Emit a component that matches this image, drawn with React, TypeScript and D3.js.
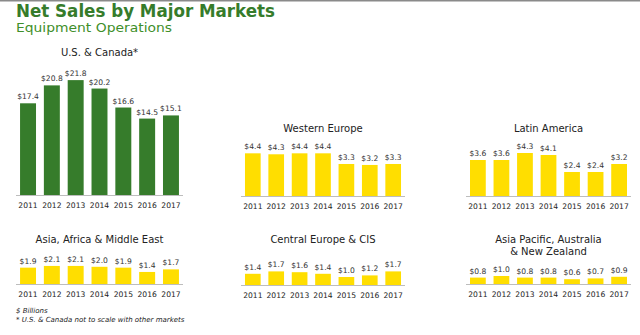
import React from "react";
import * as d3 from "d3";

const years = ["2011", "2012", "2013", "2014", "2015", "2016", "2017"];
const usCanada = [17.4, 20.8, 21.8, 20.2, 16.6, 14.5, 15.1];
const westernEurope = [4.4, 4.3, 4.4, 4.4, 3.3, 3.2, 3.3];
const latinAmerica = [3.6, 3.6, 4.3, 4.1, 2.4, 2.4, 3.2];
const asiaAfricaMiddleEast = [1.9, 2.1, 2.1, 2.0, 1.9, 1.4, 1.7];
const centralEuropeCIS = [1.4, 1.7, 1.6, 1.4, 1.0, 1.2, 1.7];
const asiaPacific = [0.8, 1.0, 0.8, 0.8, 0.6, 0.7, 0.9];

const GREEN = "#367c2b";
const YELLOW = "#ffde00";
const FONT = "'DejaVu Sans', Verdana, sans-serif";

type Panel = {
  title: string[];
  values: number[];
  color: string;
  x0: number;
  x1: number;
  base: number;
  ppu: number;
  titleY: number;
};

const panels: Panel[] = [
  { title: ["U.S. & Canada*"], values: usCanada, color: GREEN, x0: 16, x1: 183, base: 195, ppu: 5.27, titleY: 56 },
  { title: ["Western Europe"], values: westernEurope, color: YELLOW, x0: 241, x1: 405, base: 196, ppu: 9.7, titleY: 132 },
  { title: ["Latin America"], values: latinAmerica, color: YELLOW, x0: 466, x1: 631, base: 196, ppu: 10, titleY: 132 },
  { title: ["Asia, Africa & Middle East"], values: asiaAfricaMiddleEast, color: YELLOW, x0: 16, x1: 183, base: 284, ppu: 8.6, titleY: 243 },
  { title: ["Central Europe & CIS"], values: centralEuropeCIS, color: YELLOW, x0: 241, x1: 405, base: 285, ppu: 8, titleY: 243 },
  { title: ["Asia Pacific, Australia", "& New Zealand"], values: asiaPacific, color: YELLOW, x0: 466, x1: 631, base: 284, ppu: 8, titleY: 243 },
];

function BarPanel({ p }: { p: Panel }) {
  const x = d3.scaleBand<string>().domain(years).range([p.x0, p.x1]).paddingInner(0.33).paddingOuter(0.17);
  const maxV = d3.max(p.values) as number;
  const y = d3.scaleLinear().domain([0, maxV]).range([p.base, p.base - maxV * p.ppu]);
  const cx = (p.x0 + p.x1) / 2;
  return (
    <g>
      {p.title.map((t, i) => (
        <text key={t} x={cx} y={p.titleY + i * 11.5} textAnchor="middle" fontSize={10} fill="#222" fontFamily={FONT}>
          {t}
        </text>
      ))}
      {p.values.map((v, i) => {
        const bx = x(years[i]) as number;
        return (
          <g key={years[i]}>
            <rect x={bx} y={y(v)} width={x.bandwidth()} height={p.base - y(v)} fill={p.color} />
            <text x={bx + x.bandwidth() / 2} y={y(v) - 4} textAnchor="middle" fontSize={7.6} fill="#333" fontFamily={FONT}>
              {"$" + v.toFixed(1)}
            </text>
            <text x={bx + x.bandwidth() / 2} y={p.base + 13} textAnchor="middle" fontSize={7.6} fill="#222" fontFamily={FONT}>
              {years[i]}
            </text>
          </g>
        );
      })}
      <line x1={p.x0} x2={p.x1} y1={p.base + 0.5} y2={p.base + 0.5} stroke="#bdbdbd" strokeWidth={1.2} />
    </g>
  );
}

export default function App() {
  return (
    <svg width={640} height={335} style={{ position: "absolute", left: 0, top: 0, background: "#fff" }}>
      <rect x={0} y={0} width={640} height={1.5} fill="#8a8a8a" />
      <text x={16} y={16.5} fontSize={17} fontWeight="bold" fill={GREEN} fontFamily={FONT} textLength={259} lengthAdjust="spacingAndGlyphs">
        Net Sales by Major Markets
      </text>
      <text x={16} y={31.5} fontSize={12.5} fill="#3f8f2a" fontFamily={FONT} textLength={156} lengthAdjust="spacingAndGlyphs">
        Equipment Operations
      </text>
      {panels.map((p) => (
        <BarPanel key={p.title[0]} p={p} />
      ))}
      <text x={16} y={313} fontSize={7} fontStyle="italic" fill="#222" fontFamily={FONT}>
        $ Billions
      </text>
      <text x={16} y={322} fontSize={7} fontStyle="italic" fill="#222" fontFamily={FONT}>
        * U.S. &amp; Canada not to scale with other markets
      </text>
    </svg>
  );
}
